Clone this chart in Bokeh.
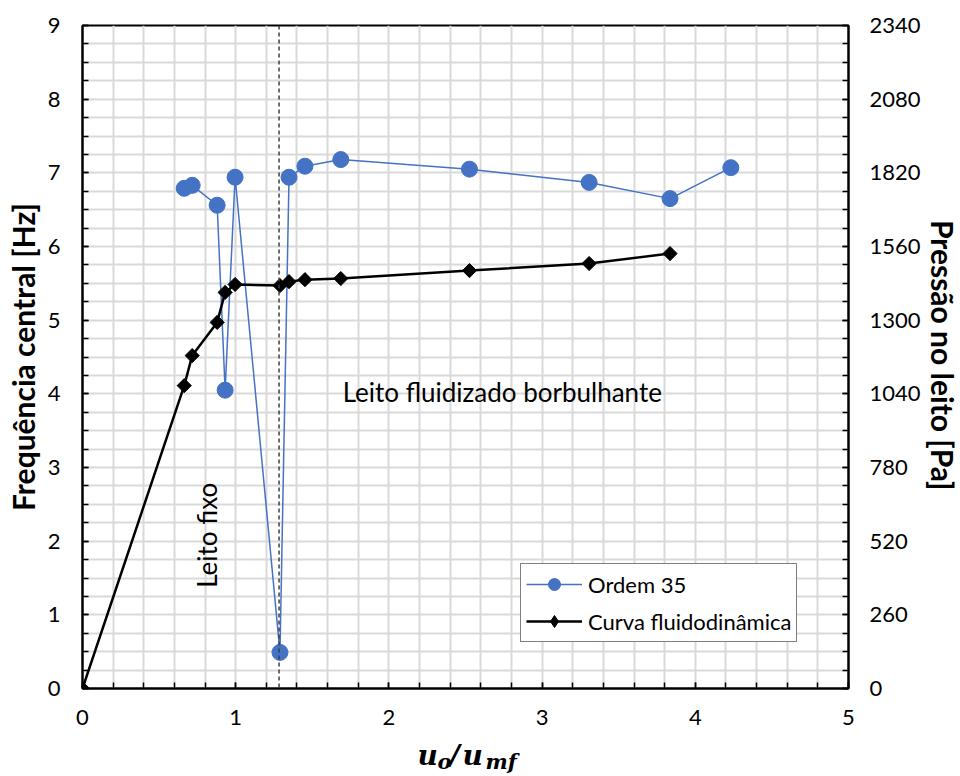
from bokeh.plotting import figure
from bokeh.layouts import column, row
from bokeh.models import (Range1d, LinearAxis, FixedTicker, Span, Label, Legend, LegendItem)
from bokeh.embed import file_html
from bokeh.resources import INLINE
from bokeh.core.properties import value
import math

# ---- data ----
u_ratio = [0.664, 0.716, 0.879, 0.931, 0.996, 1.289, 1.348, 1.452, 1.686, 2.526, 3.307, 3.835, 4.232]
freq_ordem35 = [6.79, 6.83, 6.56, 4.05, 6.94, 0.49, 6.94, 7.09, 7.18, 7.05, 6.87, 6.65, 7.07]

u_ratio_p = [0.0, 0.664, 0.716, 0.879, 0.931, 0.996, 1.289, 1.348, 1.452, 1.686, 2.526, 3.307, 3.835]
pressure_pa = [0, 1069, 1175, 1292, 1398, 1426, 1422, 1436, 1443, 1447, 1475, 1500, 1535]

x_ticks = [0, 1, 2, 3, 4, 5]
y_ticks = [0, 1, 2, 3, 4, 5, 6, 7, 8, 9]
p_ticks = [0, 260, 520, 780, 1040, 1300, 1560, 1820, 2080, 2340]
u_mf_line = 1.283

FONT = "Lato"
BLUE = "#4472C4"
H_MAIN = 736
W_MAIN = 923
W_RIGHT = 37
H_XLAB = 39

p = figure(width=W_MAIN, height=H_MAIN, output_backend="svg", toolbar_location=None,
           x_range=Range1d(0, 5), y_range=Range1d(0, 9),
           min_border_left=82, min_border_right=73, min_border_top=25, min_border_bottom=48)
p.extra_y_ranges = {"p": Range1d(0, 2340)}

p.outline_line_color = "black"
p.outline_line_width = 2

xa = p.xaxis[0]
xa.ticker = FixedTicker(ticks=x_ticks, minor_ticks=[i * 0.2 for i in range(26)])
ya = p.yaxis[0]
ya.ticker = FixedTicker(ticks=y_ticks, minor_ticks=[i * 0.25 for i in range(37)])
ya.axis_label = "Frequência central [Hz]"

ra = LinearAxis(y_range_name="p")
ra.ticker = FixedTicker(ticks=p_ticks, minor_ticks=list(range(0, 2341, 65)))
p.add_layout(ra, "right")

for ax in [xa, ya, ra]:
    ax.axis_line_color = "black"
    ax.axis_line_width = 2
    ax.major_tick_line_color = "black"
    ax.minor_tick_line_color = "black"
    ax.major_tick_line_width = 1.5
    ax.minor_tick_line_width = 1.5
    ax.major_tick_in = 6
    ax.major_tick_out = 0
    ax.minor_tick_in = 6
    ax.minor_tick_out = 0
    ax.major_label_text_font = FONT
    ax.major_label_text_font_size = "22px"
    ax.major_label_text_color = "black"
    ax.axis_label_text_font = FONT
    ax.axis_label_text_font_style = "bold"
    ax.axis_label_text_font_size = "30px"
    ax.axis_label_text_color = "black"

xa.major_label_standoff = 21
ya.major_label_standoff = 22
ra.major_label_standoff = 21
ya.axis_label_standoff = 4

p.xgrid.ticker = FixedTicker(ticks=[i * 0.2 for i in range(26)])
p.ygrid.ticker = FixedTicker(ticks=[i * 0.25 for i in range(37)])
for g in [p.xgrid[0], p.ygrid[0]]:
    g.grid_line_color = "#d9d9d9"
    g.grid_line_width = 2

p.add_layout(Span(location=u_mf_line, dimension="height", line_color="#404040",
                  line_dash="4 3", line_width=1.5))

l1 = p.line(u_ratio, freq_ordem35, line_color=BLUE, line_width=1.5)
s1 = p.scatter(u_ratio, freq_ordem35, marker="circle", size=16, fill_color=BLUE, line_color=BLUE)
l2 = p.line(u_ratio_p, pressure_pa, line_color="black", line_width=2.5, y_range_name="p")
s2 = p.scatter(u_ratio_p, pressure_pa, marker="square", angle=math.pi / 4, size=10,
               fill_color="black", line_color="black", y_range_name="p")
# legend-only diamond marker (legend glyphs ignore angle); NaN point draws nothing in the plot
s2_leg = p.scatter(x=[float("nan")], y=[float("nan")], marker="diamond", size=14,
                   fill_color="black", line_color="black", y_range_name="p")

legend = Legend(items=[LegendItem(label="Ordem 35", renderers=[l1, s1]),
                       LegendItem(label="Curva fluidodinâmica", renderers=[l2, s2_leg])],
                location=(438, 46), label_text_font=FONT, label_text_font_size="22px",
                label_text_color="black",
                border_line_color="black", border_line_width=1.5, background_fill_alpha=1,
                glyph_width=56, glyph_height=30, label_height=30, spacing=7, padding=5,
                margin=0, label_standoff=6)
p.add_layout(legend)

p.add_layout(Label(x=2.74, y=4.03, text="Leito fluidizado borbulhante", text_font=FONT,
                   text_font_size="26px", text_color="black",
                   text_align="center", text_baseline="middle"))
p.add_layout(Label(x=0.81, y=2.08, text="Leito fixo", text_font=FONT, angle=math.pi / 2,
                   text_font_size="26px", text_color="black",
                   text_align="center", text_baseline="middle"))

# right-axis title strip
r = figure(width=W_RIGHT, height=H_MAIN, output_backend="svg", toolbar_location=None,
           title=None, x_range=Range1d(0, W_RIGHT), y_range=Range1d(0, H_MAIN),
           x_axis_location=None, y_axis_location=None,
           min_border=0, min_border_left=0, min_border_right=0,
           min_border_top=0, min_border_bottom=0)
r.grid.visible = False
r.outline_line_color = None
r.text(x=[19], y=[370], text=["Pressão no leito [Pa]"], angle=-math.pi / 2,
       text_font=value(FONT), text_font_style="bold", text_font_size="30px",
       text_color="black", text_align="center", text_baseline="middle")

# x-axis title strip: u_o / u_mf
q = figure(width=W_MAIN + W_RIGHT, height=H_XLAB, output_backend="svg", toolbar_location=None,
           title=None, x_range=Range1d(0, W_MAIN + W_RIGHT), y_range=Range1d(0, H_XLAB),
           x_axis_location=None, y_axis_location=None,
           min_border=0, min_border_left=0, min_border_right=0,
           min_border_top=0, min_border_bottom=0)
q.grid.visible = False
q.outline_line_color = None

label_parts = ["u", "o", "/", "u", "mf"]
part_x = [417, 437, 449, 462, 485]
part_y = [20, 14, 20, 20, 14]
part_size = ["28px", "21px", "28px", "28px", "21px"]
for t, xx, yy, fs in zip(label_parts, part_x, part_y, part_size):
    q.text(x=[xx], y=[yy], text=[t], text_font=value("DejaVu Serif"),
           text_font_style="bold italic", text_font_size=fs, text_color="black",
           text_align="left", text_baseline="middle")

layout = column(row(p, r, spacing=0), q, spacing=0)
open("out.html", "w").write(file_html(layout, INLINE))
